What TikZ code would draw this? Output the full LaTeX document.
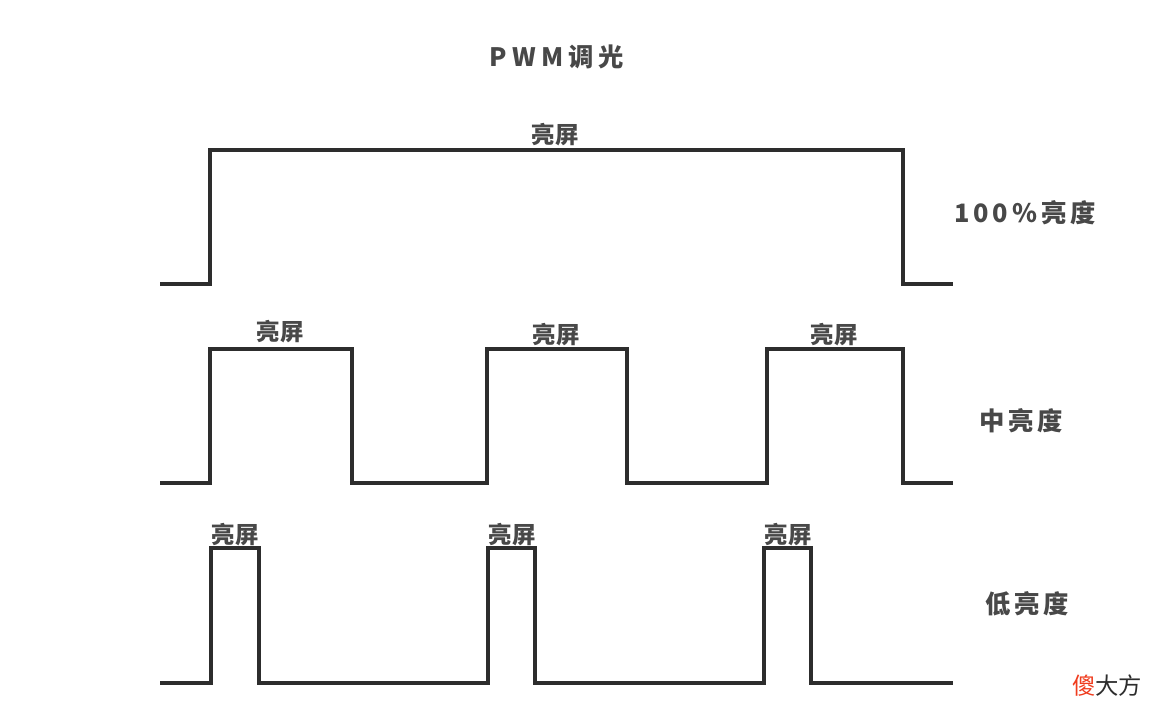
\documentclass[tikz,border=0pt]{standalone}
\usepackage{fontspec}
\setmainfont{Noto Sans CJK SC}
\definecolor{wavecolor}{RGB}{45, 45, 45}
\definecolor{textgray}{RGB}{72, 72, 72}
\definecolor{markred}{RGB}{240, 60, 30}
\tikzset{
  wave/.style={wavecolor, line width=2.4pt, line join=miter},
  pulselabel/.style={textgray, font=\fontsize{17.5}{20}\selectfont\bfseries, inner sep=0pt},
  sidelabel/.style={textgray, font=\fontsize{19}{22}\selectfont\bfseries, inner sep=0pt},
}
\begin{document}
\begin{tikzpicture}[x=0.75pt, y=-0.75pt]
        \useasboundingbox (0,0) rectangle (1162,724);
        \fill[white] (0,0) rectangle (1162,724);

        % title
        \node[sidelabel] (title) at (557,57) {\addfontfeature{LetterSpace=20}PWM调光};

        % 100%
        \draw[wave] (160,284) -- (210,284) -- (210,150) -- (903,150) -- (903,284) -- (953,284);
        \node[pulselabel] (full) at (555,135) {亮屏};
        \node[sidelabel] (fulltext) at (1025,213) {\addfontfeature{LetterSpace=15}100\%亮度};

        % 中亮度
        \draw[wave] (160,483) -- (210,483) -- (210,349) -- (352,349) -- (352,483) -- (487,483)
          -- (487,349) -- (627,349) -- (627,483) -- (767,483) -- (767,349) -- (903,349) -- (903,483) -- (953,483);
        \foreach \x/\y/\n in {280/332/a, 556/335/b, 834/335/c}
          \node[pulselabel] (mid\n) at (\x,\y) {亮屏};
        \node[sidelabel] (midtext) at (1021,421) {\addfontfeature{LetterSpace=15}中亮度};

        % 低亮度
        \draw[wave] (160,683) -- (211,683) -- (211,548) -- (259,548) -- (259,683) -- (488,683)
          -- (488,548) -- (535,548) -- (535,683) -- (764,683) -- (764,548) -- (811,548) -- (811,683) -- (953,683);
        \foreach \x/\n in {235/a, 512/b, 788/c}
          \node[pulselabel] (low\n) at (\x,535) {亮屏};
        \node[sidelabel] (lowtext) at (1027,604) {\addfontfeature{LetterSpace=15}低亮度};

        % watermark
        \node[font=\fontsize{17.5}{20}\selectfont, text=wavecolor, inner sep=0pt] (mark) at (1107,686) {\textcolor{markred}{傻}大方};
\end{tikzpicture}
\end{document}
